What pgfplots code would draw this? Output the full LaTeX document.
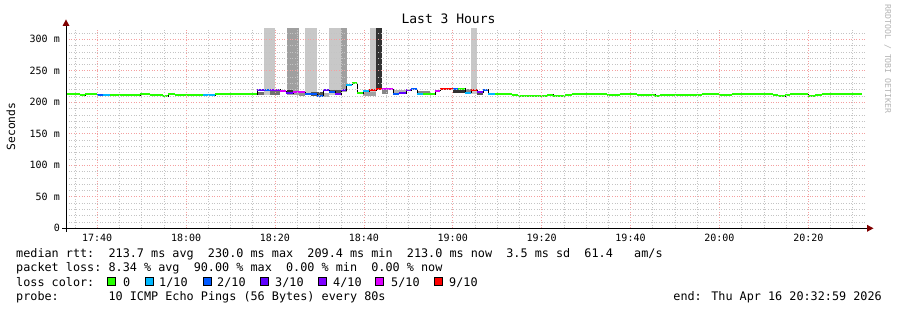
\documentclass[border=0pt]{standalone}
\usepackage{pgfplots}
\pgfplotsset{compat=1.18}
\usepackage{fontspec}
\setmainfont{DejaVu Sans Mono}
\definecolor{c0}{HTML}{26FF00}
\definecolor{c1}{HTML}{00B8FF}
\definecolor{c2}{HTML}{0059FF}
\definecolor{c3}{HTML}{5E00FF}
\definecolor{c4}{HTML}{7E00FF}
\definecolor{c5}{HTML}{DD00FF}
\definecolor{c9}{HTML}{FF0000}
\definecolor{mgrid}{HTML}{F4A0A0}
\definecolor{ngrid}{HTML}{C4C4C4}
\definecolor{arrowred}{HTML}{800000}
\definecolor{sLight}{HTML}{C8C8C8}
\definecolor{sMed}{HTML}{A0A0A0}
\definecolor{sDark}{HTML}{333333}
\definecolor{wm}{HTML}{B4B4B4}
\newcommand\lfont{\fontsize{11.8}{14}\selectfont}
\begin{document}
\begin{tikzpicture}[x=1pt,y=1pt]
\useasboundingbox (0,0) rectangle (897,-310);
\fill[white] (0,0) rectangle (897,-310);
\begin{axis}[
  at={(66pt,-228.3pt)}, anchor=south west,
  scale only axis, width=800pt, height=200pt,
  xmin=32.983, xmax=212.983, ymin=0, ymax=317.5,
  xtick={40,60,80,100,120,140,160,180,200},
  xticklabels={17:40,18:00,18:20,18:40,19:00,19:20,19:40,20:00,20:20},
  minor xtick={35,45,50,55,65,70,75,85,90,95,105,110,115,125,130,135,145,150,155,165,170,175,185,190,195,205,210},
  ytick={0,50,100,150,200,250,300},
  yticklabels={0,50 m,100 m,150 m,200 m,250 m,300 m},
  minor ytick={10,20,30,40,60,70,80,90,110,120,130,140,160,170,180,190,210,220,230,240,260,270,280,290,310},
  grid=both,
  major grid style={draw=mgrid, dash pattern=on 1pt off 1.6pt, line width=0.7pt},
  minor grid style={draw=ngrid, dash pattern=on 1pt off 1.6pt, line width=0.6pt},
  axis line style={draw=none},
  major tick length=0pt, minor tick length=0pt,
  axis on top,
  xticklabel style={font=\fontsize{10}{12}\selectfont, anchor=north, inner sep=0pt, yshift=-5.3pt},
  yticklabel style={font=\fontsize{10}{12}\selectfont, anchor=east, inner sep=0pt, xshift=-6pt},
  clip=true,
]
% smoke: tall bars
\addplot[fill=sLight, draw=none, forget plot] coordinates {(77.53,211) (80.01,211) (80.01,330) (77.53,330)} -- cycle;
\addplot[fill=sMed, draw=none, forget plot] coordinates {(82.71,212) (85.41,212) (85.41,330) (82.71,330)} -- cycle;
\addplot[fill=sLight, draw=none, forget plot] coordinates {(86.76,211) (89.46,211) (89.46,330) (86.76,330)} -- cycle;
\addplot[fill=sLight, draw=none, forget plot] coordinates {(92.16,212) (94.86,212) (94.86,330) (92.16,330)} -- cycle;
\addplot[fill=sMed, draw=none, forget plot] coordinates {(94.86,216) (96.21,216) (96.21,330) (94.86,330)} -- cycle;
\addplot[fill=sLight, draw=none, forget plot] coordinates {(101.38,212) (102.73,212) (102.73,330) (101.38,330)} -- cycle;
\addplot[fill=sDark, draw=none, forget plot] coordinates {(102.73,220) (104.08,220) (104.08,330) (102.73,330)} -- cycle;
\addplot[fill=sLight, draw=none, forget plot] coordinates {(124.11,213) (125.46,213) (125.46,330) (124.11,330)} -- cycle;
% smoke: small boxes
\addplot[fill=black!56, draw=none, forget plot] coordinates {(75.96,211) (77.53,211) (77.53,217) (75.96,217)} -- cycle;
\addplot[fill=black!56, draw=none, forget plot] coordinates {(78.88,211) (81.13,211) (81.13,218) (78.88,218)} -- cycle;
\addplot[fill=sDark, draw=none, forget plot] coordinates {(82.71,215) (84.06,215) (84.06,219) (82.71,219)} -- cycle;
\addplot[fill=black!44, draw=none, forget plot] coordinates {(85.41,210) (86.76,210) (86.76,215) (85.41,215)} -- cycle;
\addplot[fill=black!67, draw=none, forget plot] coordinates {(88.11,210) (90.81,210) (90.81,216) (88.11,216)} -- cycle;
\addplot[fill=black!30, draw=none, forget plot] coordinates {(90.81,208) (92.16,208) (92.16,214) (90.81,214)} -- cycle;
\addplot[fill=black!67, draw=none, forget plot] coordinates {(92.38,215) (94.86,215) (94.86,220) (92.38,220)} -- cycle;
\addplot[fill=black!37, draw=none, forget plot] coordinates {(99.81,210) (102.73,210) (102.73,217) (99.81,217)} -- cycle;
\addplot[fill=black!47, draw=none, forget plot] coordinates {(104.08,213) (105.43,213) (105.43,219) (104.08,219)} -- cycle;
\addplot[fill=black!30, draw=none, forget plot] coordinates {(106.56,215) (109.48,215) (109.48,219) (106.56,219)} -- cycle;
\addplot[fill=black!47, draw=none, forget plot] coordinates {(111.96,214) (114.88,214) (114.88,218) (111.96,218)} -- cycle;
\addplot[fill=sDark, draw=none, forget plot] coordinates {(120.06,214) (122.76,214) (122.76,219) (120.06,219)} -- cycle;
\addplot[fill=black!47, draw=none, forget plot] coordinates {(122.76,216) (124.11,216) (124.11,221) (122.76,221)} -- cycle;
\addplot[fill=black!67, draw=none, forget plot] coordinates {(125.46,211) (126.81,211) (126.81,218) (125.46,218)} -- cycle;
% median connector
\addplot[black, line width=0.8pt, const plot, forget plot] coordinates {
(32.98,213) (36.13,211) (37.26,212.5) (39.96,211.5) (41.31,211.5) (42.88,211) (49.63,212.5) (51.88,211.5) (54.81,209.5) (55.93,212.5) (57.51,211) (63.81,211.5) (66.51,212.5) (75.96,219) (77.76,219) (78.88,220) (81.13,218) (82.48,214) (84.06,216) (86.76,212.5) (89.46,209.5) (90.81,219) (92.16,217) (93.51,213) (94.86,219.5) (95.98,228) (97.33,230) (98.46,214.5) (99.81,217.5) (101.16,219) (102.73,220.5) (104.08,221) (106.56,213.5) (107.91,214) (109.48,219.5) (110.61,220.5) (111.96,212.5) (113.31,212.5) (116.01,218.5) (117.13,221.5) (120.06,221.5) (121.18,221.5) (122.76,215) (124.11,219) (125.46,216) (126.81,220) (127.93,213) (129.51,213) (133.33,211) (134.68,210) (141.21,212) (142.56,210.5) (145.26,212) (146.83,213) (154.71,212) (157.63,213) (161.46,211.5) (163.93,212) (165.51,210.5) (166.63,212) (169.33,211) (174.73,212) (176.08,213) (179.91,211) (181.48,212) (182.83,213) (192.06,211) (193.18,210) (194.76,212) (195.88,213) (199.93,210.5) (201.51,212) (203.08,213) (212.08,213)};
% median segments by loss colour
\addplot[c0, line width=2pt, quiver={u=\thisrow{dx}, v=0}, forget plot] table[row sep=\\] {
x y dx\\ 32.98 213 3.15\\ 36.13 211 1.13\\ 37.26 212.5 2.70\\ 42.88 211 6.75\\ 49.63 212.5 2.25\\ 51.88 211.5 2.93\\ 54.81 209.5 1.12\\ 55.93 212.5 1.58\\ 57.51 211 6.30\\ 66.51 212.5 9.45\\ 97.33 230 1.13\\ 98.46 214.5 1.35\\ 113.31 212.5 2.70\\ 121.18 221.5 1.58\\ 129.51 213 3.82\\ 133.33 211 1.35\\ 134.68 210 6.53\\ 141.21 212 1.35\\ 142.56 210.5 2.70\\ 145.26 212 1.57\\ 146.83 213 7.88\\ 154.71 212 2.92\\ 157.63 213 3.83\\ 161.46 211.5 2.47\\ 163.93 212 1.58\\ 165.51 210.5 1.12\\ 166.63 212 2.70\\ 169.33 211 5.40\\ 174.73 212 1.35\\ 176.08 213 3.83\\ 179.91 211 1.57\\ 181.48 212 1.35\\ 182.83 213 9.23\\ 192.06 211 1.12\\ 193.18 210 1.58\\ 194.76 212 1.12\\ 195.88 213 4.05\\ 199.93 210.5 1.58\\ 201.51 212 1.57\\ 203.08 213 9.00\\
};
\addplot[c1, line width=2pt, quiver={u=\thisrow{dx}, v=0}, forget plot] table[row sep=\\] {
x y dx\\ 41.31 211.5 1.57\\ 63.81 211.5 2.70\\ 95.98 228 1.35\\ 99.81 217.5 1.35\\ 111.96 212.5 1.35\\ 122.76 215 1.35\\ 127.93 213 1.58\\
};
\addplot[c2, line width=2pt, quiver={u=\thisrow{dx}, v=0}, forget plot] table[row sep=\\] {
x y dx\\ 39.96 211.5 1.35\\ 77.76 219 1.12\\ 86.76 212.5 2.70\\ 89.46 209.5 1.35\\ 92.16 217 1.35\\ 106.56 213.5 1.35\\ 110.61 220.5 1.35\\ 120.06 221.5 1.12\\ 126.81 220 1.12\\
};
\addplot[c3, line width=2pt, quiver={u=\thisrow{dx}, v=0}, forget plot] table[row sep=\\] {
x y dx\\ 75.96 219 1.80\\ 82.48 214 1.58\\ 90.81 219 1.35\\ 94.86 219.5 1.12\\ 107.91 214 1.57\\
};
\addplot[c4, line width=2pt, quiver={u=\thisrow{dx}, v=0}, forget plot] table[row sep=\\] {
x y dx\\ 78.88 220 2.25\\ 93.51 213 1.35\\ 109.48 219.5 1.13\\ 125.46 216 1.35\\
};
\addplot[c5, line width=2pt, quiver={u=\thisrow{dx}, v=0}, forget plot] table[row sep=\\] {
x y dx\\ 81.13 218 1.35\\ 84.06 216 2.70\\ 104.08 221 2.48\\ 116.01 218.5 1.12\\
};
\addplot[c9, line width=2pt, quiver={u=\thisrow{dx}, v=0}, forget plot] table[row sep=\\] {
x y dx\\ 101.16 219 1.57\\ 102.73 220.5 1.35\\ 117.13 221.5 2.93\\ 124.11 219 1.35\\
};
\end{axis}
% axes
\draw[black, line width=1pt] (66,-232) -- (66,-25);
\draw[black, line width=1pt] (62,-228.3) -- (868,-228.3);
\fill[arrowred] (62.5,-26) -- (69.5,-26) -- (66,-19.5) -- cycle;
\fill[arrowred] (867,-224.8) -- (867,-231.8) -- (873.5,-228.3) -- cycle;
% title and labels
\node[font=\fontsize{13}{15}\selectfont, anchor=base, inner sep=0] at (448.5,-24) {Last 3 Hours};
\node[font=\fontsize{11.3}{13}\selectfont, rotate=90, anchor=base, inner sep=0] at (15,-126.5) {Seconds};
\node[font=\fontsize{8.2}{10}\selectfont, rotate=-90, anchor=base west, inner sep=0, text=wm] at (885,-4.5) {RRDTOOL / TOBI OETIKER};
% legend
\node[font=\lfont, anchor=base west, inner sep=0] at (16,-257.4) {median rtt:~~213.7 ms avg~~230.0 ms max~~209.4 ms min~~213.0 ms now~~3.5 ms sd~~61.4~~~am/s};
\node[font=\lfont, anchor=base west, inner sep=0] at (16,-271.7) {packet loss:~8.34 \% avg~~90.00 \% max~~0.00 \% min~~0.00 \% now};
\node[font=\lfont, anchor=base west, inner sep=0] at (16,-286) {loss color:};
\foreach \sx/\col/\lab/\lx in {107.5/c0/0/123, 145.5/c1/1\slash 10/159, 203.5/c2/2\slash 10/217, 260.5/c3/3\slash 10/275, 318.5/c4/4\slash 10/333, 375.5/c5/5\slash 10/391, 434.5/c9/9\slash 10/449} {
  \filldraw[fill=\col, draw=black, line width=0.9pt] (\sx,-277.5) rectangle ++(8.3,-8.3);
  \node[font=\lfont, anchor=base west, inner sep=0] at (\lx,-286) {\lab};
}
\node[font=\lfont, anchor=base west, inner sep=0] at (16,-300.3) {probe:~~~~~~~10 ICMP Echo Pings (56 Bytes) every 80s};
\node[font=\lfont, anchor=base east, inner sep=0] at (882,-300.3) {end: Thu Apr 16 20:32:59 2026};
\end{tikzpicture}
\end{document}
